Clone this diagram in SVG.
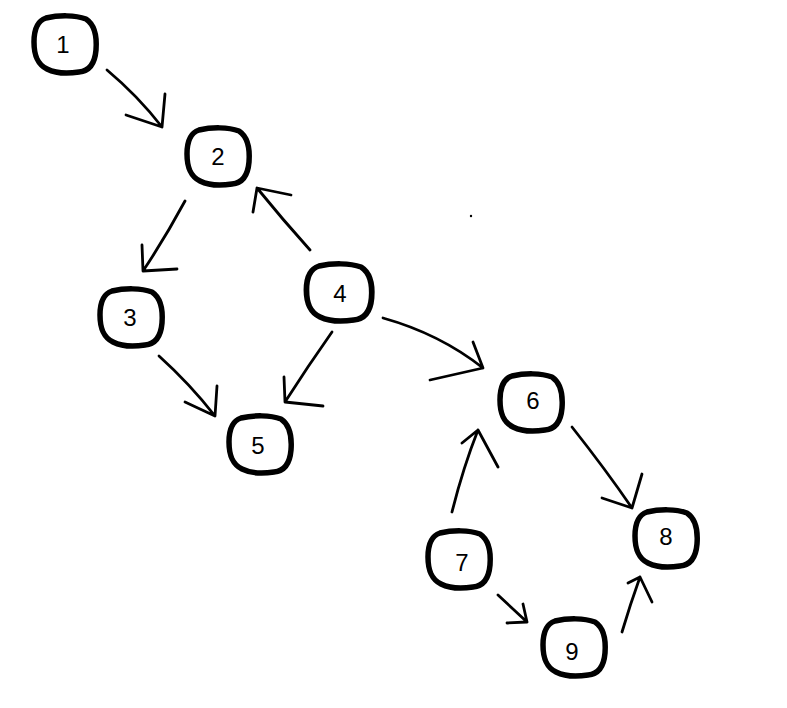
<svg xmlns="http://www.w3.org/2000/svg" width="787" height="708" viewBox="0 0 787 708">
<style>
.blob{fill:#fff;stroke:#000;stroke-width:5.5;stroke-linejoin:round}
.lbl{font-family:"Liberation Sans",Arial,sans-serif;font-size:24px;fill:#000;text-anchor:middle;dominant-baseline:central}
.edge{fill:none;stroke:#000;stroke-width:2.8;stroke-linecap:round;stroke-linejoin:round}
</style>
<defs>
<path id="blob" class="blob" d="M -19,-27 C -6,-30 10,-30 21,-26 C 30,-20 32,-8 31,5 C 30,17 25,26 14,27 C 2,29 -10,28 -18,24 C -28,19 -31,10 -31,-3 C -31,-15 -28,-24 -19,-27 Z"/>
</defs>
<rect width="787" height="708" fill="#fff"/>
<g id="connectors">
<path class="edge" d="M107,70 Q138,96 162,127 M165,94 L162,127 L126,115"/>
<path class="edge" d="M185,201 Q165,238 143,271 M142,245 L143,271 L177,269"/>
<path class="edge" d="M310,250 Q283,220 257,188 M253,212 L257,188 L291,195"/>
<path class="edge" d="M332,332 Q308,366 285,402 M284,377 L285,402 L323,406"/>
<path class="edge" d="M159,356 Q190,384 215,416 M217,386 L215,416 L185,402"/>
<path class="edge" d="M383,318 Q440,334 483,368 M473,342 L483,368 L430,380"/>
<path class="edge" d="M452,512 Q463,468 478,430 M462,443 L478,430 L498,467"/>
<path class="edge" d="M572,427 Q606,470 632,508 M642,474 L632,508 L602,498"/>
<path class="edge" d="M498,595 L527,622 M523,604 L527,622 L507,623"/>
<path class="edge" d="M622,632 Q630,605 640,577 M628,583 L640,577 L652,602"/>
<circle cx="471" cy="216" r="1.2" fill="#000"/>
</g>
<g id="n1"><use href="#blob" transform="translate(65,45)"/><text class="lbl" x="63" y="44">1</text></g>
<g id="n2"><use href="#blob" transform="translate(218,157)"/><text class="lbl" x="218" y="156">2</text></g>
<g id="n3"><use href="#blob" transform="translate(131,318)"/><text class="lbl" x="130" y="317">3</text></g>
<g id="n4"><use href="#blob" transform="translate(339,293) scale(1.05,1)"/><text class="lbl" x="340" y="293">4</text></g>
<g id="n5"><use href="#blob" transform="translate(260,445)"/><text class="lbl" x="258" y="445">5</text></g>
<g id="n6"><use href="#blob" transform="translate(531,403)"/><text class="lbl" x="533" y="400">6</text></g>
<g id="n7"><use href="#blob" transform="translate(459,560)"/><text class="lbl" x="462" y="562">7</text></g>
<g id="n8"><use href="#blob" transform="translate(666,539)"/><text class="lbl" x="666" y="536">8</text></g>
<g id="n9"><use href="#blob" transform="translate(574,648)"/><text class="lbl" x="572" y="651">9</text></g>
</svg>
